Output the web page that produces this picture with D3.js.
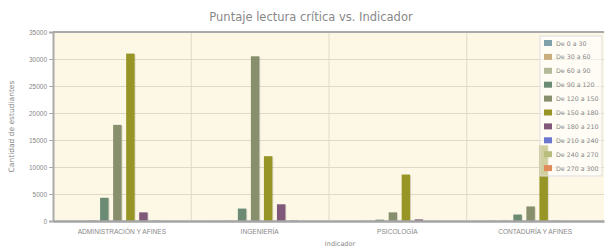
<!DOCTYPE html>
<html>
<head>
<meta charset="utf-8">
<script src="https://cdn.jsdelivr.net/npm/d3@7"></script>
<style>
  body { margin: 0; background: #fff; font-family: "DejaVu Sans", sans-serif; }
  svg { display: block; }
</style>
</head>
<body>
<div id="chart"></div>
<script>
// categories and series
const categories = ['ADMINISTRACIÓN Y AFINES', 'INGENIERÍA', 'PSICOLOGÍA', 'CONTADURÍA Y AFINES'];
const seriesNames = ['De 0 a 30', 'De 30 a 60', 'De 60 a 90', 'De 90 a 120', 'De 120 a 150',
  'De 150 a 180', 'De 180 a 210', 'De 210 a 240', 'De 240 a 270', 'De 270 a 300'];
const seriesColors = ['#7fa2aa', '#c9ad7c', '#b3b898', '#6c8b75', '#878f6c',
  '#979526', '#80597a', '#6b74cf', '#b8bd7c', '#e08b5c'];
// values per series, one per category
const s0 = [10, 5, 5, 20];
const s1 = [20, 10, 5, 60];
const s2 = [120, 80, 60, 90];
const s3 = [4300, 2300, 250, 1200];
const s4 = [17800, 30500, 1600, 2700];
const s5 = [31000, 12000, 8600, 14000];
const s6 = [1600, 3100, 300, 40];
const s7 = [60, 90, 10, 5];
const s8 = [5, 5, 0, 0];
const s9 = [0, 0, 0, 0];
const seriesValues = [s0, s1, s2, s3, s4, s5, s6, s7, s8, s9];
const yTicks = [0, 5000, 10000, 15000, 20000, 25000, 30000, 35000];

const width = 605, height = 249;
const margin = { top: 32, right: 1, bottom: 28, left: 53 };

const svg = d3.select('#chart').append('svg')
  .attr('width', width)
  .attr('height', height);

const x0 = d3.scaleBand()
  .domain(categories)
  .range([margin.left, width - margin.right])
  .padding(0);

const x1 = d3.scaleBand()
  .domain(d3.range(seriesNames.length))
  .range([8, x0.bandwidth() - 4])
  .paddingInner(0.35);

const y = d3.scaleLinear()
  .domain([0, 35000])
  .range([height - margin.bottom, margin.top]);

// plot background
svg.append('rect')
  .attr('x', margin.left)
  .attr('y', margin.top)
  .attr('width', width - margin.right - margin.left)
  .attr('height', height - margin.bottom - margin.top)
  .attr('fill', '#fdf8e6');

// horizontal gridlines
svg.append('g')
  .selectAll('line')
  .data(yTicks.slice(1))
  .enter().append('line')
  .attr('x1', margin.left)
  .attr('x2', width - margin.right)
  .attr('y1', d => y(d) + 0.5)
  .attr('y2', d => y(d) + 0.5)
  .attr('stroke', '#e0dac4');

// vertical gridlines at category boundaries
svg.append('g')
  .selectAll('line')
  .data(categories.slice(1))
  .enter().append('line')
  .attr('x1', d => x0(d) + 0.5)
  .attr('x2', d => x0(d) + 0.5)
  .attr('y1', margin.top)
  .attr('y2', height - margin.bottom)
  .attr('stroke', '#e0dac4');

// bars
const groups = svg.append('g')
  .selectAll('g')
  .data(categories)
  .enter().append('g')
  .attr('transform', d => `translate(${x0(d)},0)`);

groups.selectAll('rect')
  .data((d, ci) => seriesValues.map((vals, si) => ({ si, v: vals[ci] })))
  .enter().append('rect')
  .attr('x', d => x1(d.si) + 1)
  .attr('y', d => y(d.v) + 1)
  .attr('width', x1.bandwidth())
  .attr('height', d => Math.max(0, y(0) - y(d.v)))
  .attr('fill', 'rgba(0,0,0,0.12)');

groups.selectAll('rect.bar')
  .data((d, ci) => seriesValues.map((vals, si) => ({ si, v: vals[ci] })))
  .enter().append('rect')
  .attr('class', 'bar')
  .attr('x', d => x1(d.si))
  .attr('y', d => y(d.v))
  .attr('width', x1.bandwidth())
  .attr('height', d => Math.max(0, y(0) - y(d.v)))
  .attr('fill', d => seriesColors[d.si]);

// top border
svg.append('line')
  .attr('x1', margin.left).attr('x2', width - margin.right)
  .attr('y1', margin.top).attr('y2', margin.top)
  .attr('stroke', '#aaa').attr('stroke-width', 2);

// axes
const yAxis = d3.axisLeft(y)
  .tickValues(yTicks)
  .tickSize(4)
  .tickFormat(d3.format('d'));

const gy = svg.append('g')
  .attr('transform', `translate(${margin.left},0)`)
  .call(yAxis);
gy.select('.domain').attr('stroke', '#aaa').attr('stroke-width', 2);
gy.selectAll('.tick line').attr('stroke', '#aaa');
gy.selectAll('.tick text').attr('fill', '#888').attr('font-size', 6.5).attr('x', -6);

const xAxis = d3.axisBottom(x0).tickSize(0).tickPadding(8);
const gx = svg.append('g')
  .attr('transform', `translate(0,${height - margin.bottom})`)
  .call(xAxis);
gx.select('.domain').attr('stroke', '#a5a5a5').attr('stroke-width', 2.5);
gx.selectAll('.tick text').attr('fill', '#888').attr('font-size', 6.6);

// title and axis labels
svg.append('text')
  .attr('x', 311).attr('y', 21)
  .attr('text-anchor', 'middle')
  .attr('font-size', 11.5)
  .attr('fill', '#888')
  .text('Puntaje lectura crítica vs. Indicador');

svg.append('text')
  .attr('transform', `translate(14,${(margin.top + height - margin.bottom) / 2}) rotate(-90)`)
  .attr('text-anchor', 'middle')
  .attr('font-size', 7.5)
  .attr('fill', '#888')
  .text('Cantidad de estudiantes');

svg.append('text')
  .attr('x', 340).attr('y', 246)
  .attr('text-anchor', 'middle')
  .attr('font-size', 6.5)
  .attr('fill', '#888')
  .text('Indicador');

// legend
const legend = svg.append('g').attr('transform', 'translate(540,36)');
legend.append('rect')
  .attr('width', 62)
  .attr('height', 140)
  .attr('fill', 'rgba(255,255,255,0.55)')
  .attr('stroke', '#ddd');

const items = legend.selectAll('g.item')
  .data(seriesNames)
  .enter().append('g')
  .attr('class', 'item')
  .attr('transform', (d, i) => `translate(4,${4 + i * 13.9})`);

items.append('rect')
  .attr('width', 8).attr('height', 6)
  .attr('fill', (d, i) => seriesColors[i]);

items.append('text')
  .attr('x', 12).attr('y', 5.5)
  .attr('font-size', 6.3)
  .attr('fill', '#888')
  .text(d => d);
</script>
</body>
</html>
